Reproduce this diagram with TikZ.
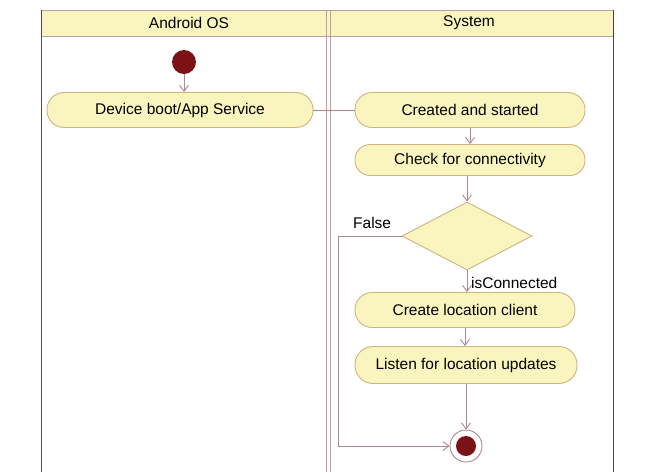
\documentclass[tikz,border=0pt]{standalone}
\usepackage{fontspec}
\setmainfont{Liberation Sans}
\usetikzlibrary{shapes.geometric,arrows.meta}
\definecolor{nodefill}{RGB}{250,244,190}
\definecolor{nodeline}{RGB}{205,180,130}
\definecolor{flow}{RGB}{175,135,140}
\definecolor{dot}{RGB}{125,18,22}
\definecolor{pool}{RGB}{190,160,160}
\tikzset{
  act/.style={draw=nodeline, fill=nodefill, line width=0.9pt, rectangle, rounded corners=17pt,
    minimum height=35pt, font=\fontsize{15.5}{17}\selectfont, inner sep=0pt},
  flowline/.style={draw=flow, line width=0.9pt},
  flowarrow/.style={flowline, -{Straight Barb[length=6pt,width=9pt]}},
  lbl/.style={font=\fontsize{15.5}{17}\selectfont, inner sep=0pt}
}
\begin{document}
\begin{tikzpicture}[x=1pt,y=-1pt]
\useasboundingbox (0,0) rectangle (646,472);
% pool
\fill[nodefill] (41,10) rectangle (613,36);
\draw[pool, line width=0.8pt] (41,36) -- (613,36);
\draw[pool, line width=0.8pt] (41,10) -- (613,10);
\draw[black!70, line width=1pt] (41,10) -- (41,472);
\draw[pool, line width=0.8pt] (326,10) -- (326,472);
\draw[pool, line width=0.8pt] (330,10) -- (330,472);
\draw[black!60!pool, line width=1pt] (613,10) -- (613,472);
\node[lbl] (h1) at (189,23) {Android OS};
\node[lbl] (h2) at (469,23) {System};
% nodes
\node[circle, fill=dot, minimum size=24pt, inner sep=0pt] (start) at (184,62) {};
\node[act, minimum width=266pt] (boot) at (180,110) {Device boot/App Service};
\node[act, minimum width=230pt] (created) at (470,110) {Created and started};
\node[act, minimum width=230pt, minimum height=31pt, rounded corners=15pt] (check) at (470,160) {Check for connectivity};
\node[diamond, draw=nodeline, fill=nodefill, line width=0.9pt, minimum width=130pt, minimum height=68pt, inner sep=0pt, aspect=1.9] (dec) at (467,236) {};
\node[act, minimum width=220pt] (client) at (465,310) {Create location client};
\node[act, minimum width=222pt, minimum height=37pt, rounded corners=18pt] (listen) at (466,365) {Listen for location updates};
\node[circle, draw=flow, fill=white, line width=0.9pt, minimum size=32pt, inner sep=0pt] (end) at (466,446) {};
\fill[dot] (end.center) circle (10pt);
% labels
\node[lbl, anchor=west] (false) at (353,223) {False};
\node[lbl, anchor=west] (conn) at (471,283) {isConnected};
% connectors
\draw[flowarrow] (start) -- (boot.north -| start);
\draw[flowline] (boot) -- (created);
\draw[flowarrow] (created.south -| check.south) -- (check.north);
\draw[flowarrow] (check.south -| dec.north) -- (dec.north);
\draw[flowarrow] (dec.south) -- (client.north -| dec.south);
\draw[flowarrow] (client.south) -- (listen.north -| client.south);
\draw[flowarrow] (listen.south -| end.north) -- (end);
\coordinate (fc1) at (338,236);
\coordinate (fc2) at (338,446);
\draw[flowarrow] (dec.west) -- (fc1) -- (fc2) -- (end.west);
\end{tikzpicture}
\end{document}
